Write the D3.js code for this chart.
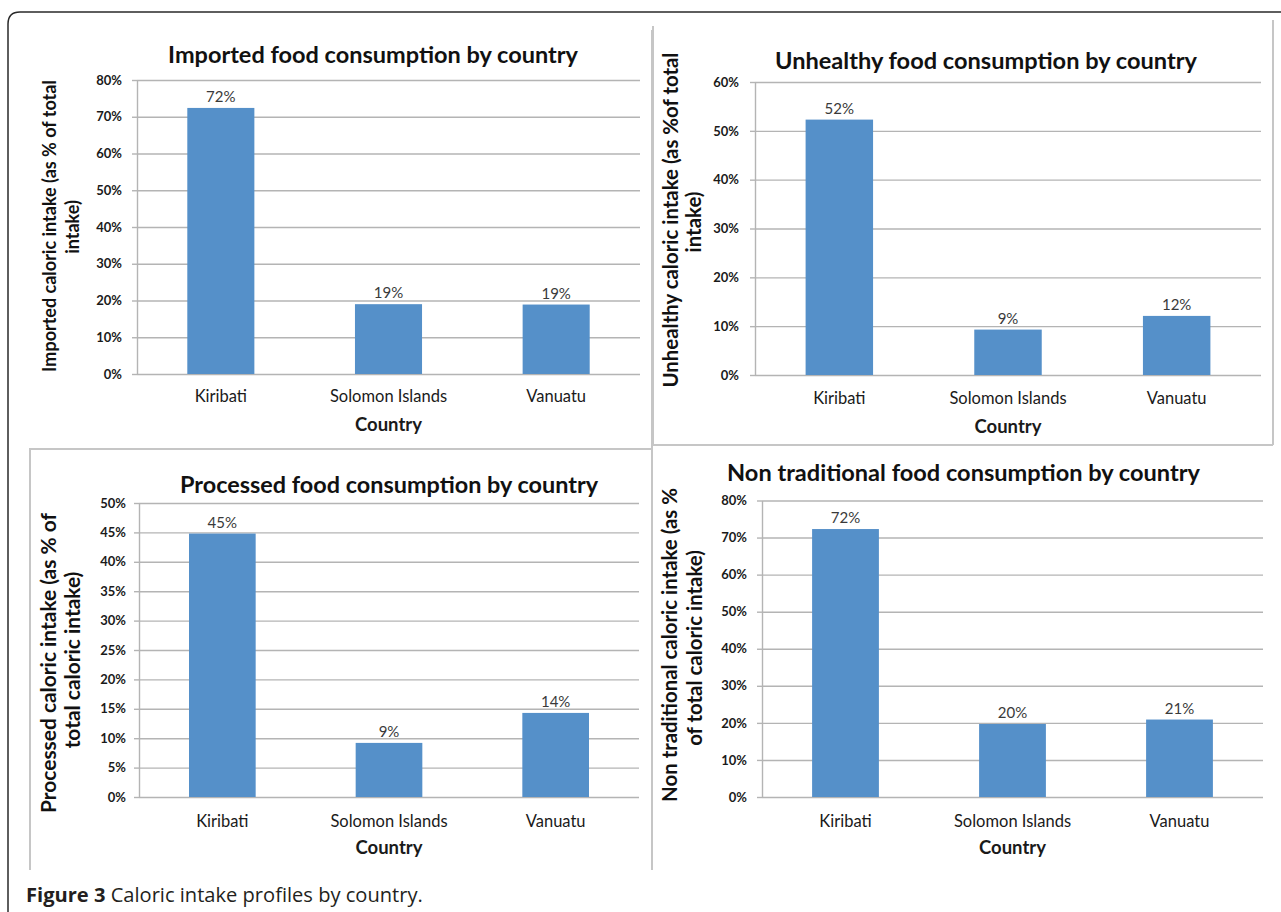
<!DOCTYPE html>
<html><head><meta charset="utf-8">
<script src="https://cdn.jsdelivr.net/npm/d3@7"></script>
<style>
body{margin:0;background:#fff;}
svg{display:block;}
</style>
</head><body>
<svg id="c" width="1281" height="912"></svg>
<script>
// ---------- data ----------
const countries = ["Kiribati", "Solomon Islands", "Vanuatu"];
const importedValues = [72.4, 19.0, 18.9];
const unhealthyValues = [52.3, 9.3, 12.1];
const processedValues = [44.8, 9.2, 14.3];
const nonTraditionalValues = [72.3, 19.7, 20.9];
const importedTicks = [0, 10, 20, 30, 40, 50, 60, 70, 80];
const unhealthyTicks = [0, 10, 20, 30, 40, 50, 60];
const processedTicks = [0, 5, 10, 15, 20, 25, 30, 35, 40, 45, 50];
const nonTraditionalTicks = [0, 10, 20, 30, 40, 50, 60, 70, 80];
const chartTitles = [
  "Imported food consumption by country",
  "Unhealthy food consumption by country",
  "Processed food consumption by country",
  "Non traditional food consumption by country"
];
const yAxisTitles = [
  ["Imported caloric intake (as % of total", "intake)"],
  ["Unhealthy caloric intake (as %of total", "intake)"],
  ["Processed caloric intake (as % of", "total caloric intake)"],
  ["Non traditional caloric intake (as %", "of total caloric intake)"]
];
const xAxisTitle = "Country";
const captionBold = "Figure 3";
const captionText = " Caloric intake profiles by country.";

// ---------- layout ----------
const panels = [
  {values: importedValues, ticks: importedTicks,
   x0: 137, x1: 640, yTop: 80, yBot: 374,
   title: {cx: 373, y: 63, w: 410},
   yt: [{x: 56, cy: 226}, {x: 79, cy: 227}], ytW: 292,
   xlabY: 402, xtitleY: 431, tickOff: 15},
  {values: unhealthyValues, ticks: unhealthyTicks,
   x0: 755, x1: 1261, yTop: 82, yBot: 375,
   title: {cx: 986, y: 69, w: 422},
   yt: [{x: 678, cy: 220}, {x: 701, cy: 222}], ytW: 335,
   xlabY: 404, xtitleY: 433, tickOff: 16},
  {values: processedValues, ticks: processedTicks,
   x0: 139, x1: 639, yTop: 503, yBot: 797,
   title: {cx: 389, y: 493, w: 418},
   yt: [{x: 56, cy: 663}, {x: 80, cy: 660}], ytW: 300,
   xlabY: 827, xtitleY: 854, tickOff: 13},
  {values: nonTraditionalValues, ticks: nonTraditionalTicks,
   x0: 762, x1: 1263, yTop: 500.5, yBot: 797,
   title: {cx: 963.5, y: 481, w: 473},
   yt: [{x: 677, cy: 645}, {x: 702, cy: 648}], ytW: 314,
   xlabY: 827, xtitleY: 854, tickOff: 15}
];

const FONT = "Lato, 'Open Sans', sans-serif";
const BAR = "#5590c9";
const GRID = "#b4b4b4";
const BORDER = "#c6c6c6";
const svg = d3.select("#c");

function fit(sel, target, base) {
  sel.attr("font-size", base);
  const w = sel.node().getComputedTextLength();
  const fs = +(base * target / w).toFixed(2);
  sel.attr("font-size", fs);
  return fs;
}

// outer frame
svg.append("path")
  .attr("d", "M8,912 L8,24 Q8,12 20,12 L1281,12")
  .attr("fill", "none").attr("stroke", "#2a2a2a").attr("stroke-width", 1.5);

// panel borders
const borderLines = [
  [652, 30, 652, 449], [29, 449, 652, 449],
  [653, 26, 653, 445], [653, 445, 1273, 445], [1273, 20, 1273, 445],
  [30, 449, 30, 870], [652, 445, 652, 870]
];
svg.append("g").selectAll("line").data(borderLines).join("line")
  .attr("x1", d => d[0]).attr("y1", d => d[1]).attr("x2", d => d[2]).attr("y2", d => d[3])
  .attr("stroke", BORDER).attr("stroke-width", 2);

panels.forEach((p, i) => {
  const g = svg.append("g");
  const x = d3.scaleBand().domain(countries).range([p.x0, p.x1])
    .paddingInner(0.6).paddingOuter(0.3);
  const max = d3.max(p.ticks);
  const y = d3.scaleLinear().domain([0, max]).range([p.yBot, p.yTop]);

  // gridlines
  g.append("g").attr("transform", `translate(${p.x0},0)`)
    .call(d3.axisLeft(y).tickValues(p.ticks).tickSize(-(p.x1 - p.x0)).tickFormat(""))
    .call(a => a.select(".domain").remove())
    .call(a => a.selectAll("line").attr("stroke", GRID).attr("stroke-width", 1.4));

  // y axis with small ticks + labels
  g.append("g").attr("transform", `translate(${p.x0},0)`)
    .call(d3.axisLeft(y).tickValues(p.ticks).tickSizeInner(5).tickSizeOuter(0)
      .tickPadding(p.tickOff - 5).tickFormat(d => d + "%"))
    .call(a => a.select(".domain").attr("stroke", GRID).attr("stroke-width", 1.4))
    .call(a => a.selectAll("line").attr("stroke", GRID).attr("stroke-width", 1.4))
    .call(a => a.selectAll("text").attr("font-family", FONT).attr("font-size", 13)
      .attr("font-weight", 700).attr("fill", "#1a1a1a"));

  // bars
  g.append("g").selectAll("rect").data(p.values).join("rect")
    .attr("x", (d, k) => x(countries[k]))
    .attr("width", x.bandwidth())
    .attr("y", d => y(d))
    .attr("height", d => y(0) - y(d))
    .attr("fill", BAR);

  // value labels
  g.append("g").selectAll("text").data(p.values).join("text")
    .attr("x", (d, k) => x(countries[k]) + x.bandwidth() / 2)
    .attr("y", d => y(d) - 6)
    .attr("text-anchor", "middle")
    .attr("font-family", FONT).attr("font-size", 15).attr("fill", "#3a3a3a")
    .text(d => Math.round(d) + "%");

  // category labels
  g.append("g").selectAll("text").data(countries).join("text")
    .attr("x", d => x(d) + x.bandwidth() / 2)
    .attr("y", p.xlabY)
    .attr("text-anchor", "middle")
    .attr("font-family", FONT).attr("font-size", 16.5).attr("fill", "#1a1a1a")
    .text(d => d);

  // x axis title
  g.append("text")
    .attr("x", (p.x0 + p.x1) / 2).attr("y", p.xtitleY)
    .attr("text-anchor", "middle")
    .attr("font-family", FONT).attr("font-size", 18.5).attr("font-weight", 700)
    .attr("fill", "#1a1a1a").text(xAxisTitle);

  // chart title
  const t = g.append("text")
    .attr("x", p.title.cx).attr("y", p.title.y)
    .attr("text-anchor", "middle")
    .attr("font-family", FONT).attr("font-weight", 700).attr("fill", "#111")
    .text(chartTitles[i]);
  fit(t, p.title.w, 20);

  // y axis title (two lines, rotated, same size)
  let fs = 17;
  yAxisTitles[i].forEach((line, k) => {
    const yt = p.yt[k];
    const tt = g.append("text")
      .attr("transform", `translate(${yt.x},${yt.cy}) rotate(-90)`)
      .attr("text-anchor", "middle")
      .attr("font-family", FONT).attr("font-weight", 700).attr("fill", "#111")
      .text(line);
    if (k === 0) fs = fit(tt, p.ytW, 17);
    else tt.attr("font-size", fs);
  });
});

// caption
const cap = svg.append("text").attr("x", 26).attr("y", 902)
  .attr("font-family", "'Open Sans', sans-serif").attr("font-size", 18).attr("fill", "#231f20");
cap.append("tspan").attr("font-weight", 700).text(captionBold);
cap.append("tspan").text(captionText);
fit(cap, 397, 18);
</script>
</body></html>
